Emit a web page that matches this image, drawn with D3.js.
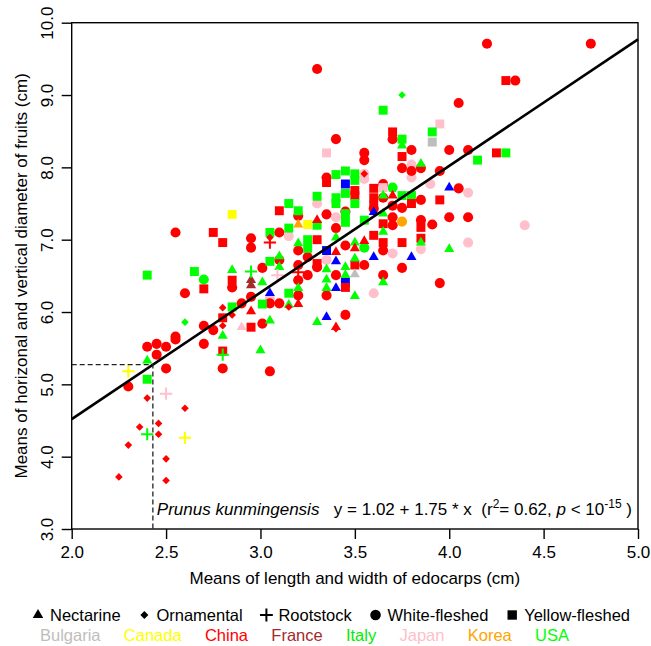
<!DOCTYPE html>
<html>
<head>
<meta charset="utf-8">
<script src="https://cdn.jsdelivr.net/npm/d3@7"></script>
<style>
body { margin: 0; background: #fff; }
svg { display: block; font-family: "Liberation Sans", Arial, Helvetica, sans-serif; }
</style>
</head>
<body>
<svg id="chart" width="651" height="646"></svg>
<script>
// legend categories
const fruitTypes = ["Nectarine", "Ornamental", "Rootstock", "White-fleshed", "Yellow-fleshed"]
const countries = ["Bulgaria", "Canada", "China", "France", "Italy", "Japan", "Korea", "USA"]
const countryCodes = ["BG", "CA", "CN", "FR", "IT", "JP", "KR", "US"]

// axis ticks
const xTicks = [2.0, 2.5, 3.0, 3.5, 4.0, 4.5, 5.0]
const yTicks = [3, 4, 5, 6, 7, 8, 9, 10]

// fitted line and the P. kunmingensis edocarp size
const intercept = 1.02
const slope = 1.75
const r2 = 0.62
const kunmingX = 2.43

// points: [edocarp mean, fruit diameter mean, country]
const whiteFleshed = [
    [2.40,5.52,"CN"],[2.45,5.56,"CN"],[2.50,5.52,"CN"],[2.45,5.41,"CN"],[2.55,5.62,"CN"],[2.70,5.56,"CN"],
    [2.50,5.22,"CN"],[2.30,4.97,"CN"],[2.80,5.22,"CN"],[2.55,7.10,"CN"],[2.70,6.45,"IT"],[2.60,6.26,"CN"],
    [2.70,5.81,"CN"],[2.75,5.75,"CN"],[2.55,5.66,"CN"],[3.30,7.50,"JP"],[3.20,7.33,"CN"],[3.35,7.35,"CN"],
    [3.40,7.31,"JP"],[3.10,7.10,"CN"],[3.15,7.05,"JP"],[2.95,7.02,"CN"],[2.95,6.89,"CN"],[3.40,7.16,"CN"],
    [3.20,6.85,"CN"],[3.25,6.76,"CN"],[3.35,6.72,"JP"],[3.30,6.62,"CN"],[3.40,6.51,"CN"],[3.35,6.23,"CN"],
    [3.10,6.72,"CN"],[3.01,6.61,"CN"],[2.95,6.21,"CN"],[2.85,6.34,"CN"],[3.20,6.65,"CN"],[3.20,6.44,"CN"],
    [3.20,6.23,"CN"],[3.25,6.51,"CN"],[3.05,6.19,"JP"],[3.10,6.12,"CN"],[3.05,6.12,"CN"],[2.90,6.12,"CN"],
    [3.01,5.84,"CN"],[3.05,5.18,"CN"],[3.30,9.36,"CN"],[3.40,8.39,"CN"],[3.35,7.86,"CN"],[4.05,8.89,"CN"],
    [3.70,8.39,"CN"],[3.80,8.24,"CN"],[4.00,8.24,"CN"],[4.10,8.24,"CN"],[3.55,8.20,"CN"],[3.55,8.10,"CN"],
    [3.75,7.99,"CN"],[3.80,8.04,"JP"],[3.80,7.86,"JP"],[3.80,7.95,"CN"],[3.85,7.99,"CN"],[3.95,7.95,"CN"],
    [3.55,7.91,"JP"],[3.55,7.84,"JP"],[3.65,7.77,"CN"],[3.90,7.77,"JP"],[3.65,7.58,"CN"],[3.70,7.72,"IT"],
    [3.70,7.47,"CN"],[3.75,7.44,"CN"],[3.85,7.55,"CN"],[4.05,7.71,"CN"],[4.10,7.65,"JP"],[3.60,7.43,"CN"],
    [3.70,7.31,"CN"],[3.70,7.20,"CN"],[3.75,7.25,"KR"],[3.85,7.27,"CN"],[3.91,7.21,"CN"],[4.00,7.31,"CN"],
    [4.10,7.31,"CN"],[3.65,6.85,"CN"],[3.85,6.87,"JP"],[4.10,6.96,"JP"],[3.55,6.89,"IT"],[3.45,6.92,"CN"],
    [3.55,6.65,"CN"],[3.70,6.81,"JP"],[3.75,6.61,"CN"],[3.65,6.51,"CN"],[3.60,6.26,"JP"],[3.95,6.40,"CN"],
    [3.45,5.96,"CN"],[3.45,7.39,"CN"],[4.20,9.71,"CN"],[4.75,9.71,"CN"],[4.35,9.20,"CN"],[4.40,7.20,"JP"]
]
const yellowFleshed = [
    [2.80,5.46,"CN"],[2.40,5.07,"IT"],[2.75,7.10,"CN"],[2.80,6.96,"CN"],[2.85,7.35,"CA"],[2.40,6.51,"IT"],
    [2.65,6.56,"IT"],[2.70,6.32,"CN"],[2.80,5.92,"CN"],[3.35,7.79,"CN"],[3.30,7.60,"IT"],[3.40,7.58,"IT"],
    [3.40,7.50,"IT"],[3.15,7.50,"IT"],[3.10,7.40,"CN"],[3.20,7.40,"IT"],[3.25,7.21,"CA"],[3.30,7.20,"IT"],
    [3.15,7.16,"IT"],[3.05,7.10,"IT"],[3.25,7.00,"IT"],[3.30,7.00,"CN"],[3.25,6.88,"IT"],[3.35,6.85,"US"],
    [3.30,6.67,"CN"],[3.05,6.70,"IT"],[2.85,6.44,"CN"],[3.15,6.26,"IT"],[3.01,6.11,"IT"],[2.85,6.07,"IT"],
    [2.95,5.79,"CN"],[3.35,8.20,"JP"],[3.40,7.90,"IT"],[3.65,8.79,"IT"],[3.95,8.60,"JP"],[3.91,8.49,"IT"],
    [3.91,8.35,"BG"],[3.70,8.49,"CN"],[3.75,8.39,"IT"],[3.75,8.15,"CN"],[3.45,7.95,"IT"],[3.50,7.91,"IT"],
    [3.50,7.82,"IT"],[3.45,7.77,"US"],[3.45,7.64,"IT"],[3.50,7.68,"CN"],[3.50,7.61,"CN"],[3.50,7.50,"IT"],
    [3.60,7.71,"CN"],[3.60,7.58,"CN"],[3.60,7.47,"CN"],[3.65,7.72,"JP"],[3.75,7.61,"IT"],[3.80,7.61,"IT"],
    [3.80,7.50,"CN"],[3.95,7.55,"CN"],[3.45,7.36,"IT"],[3.45,7.24,"IT"],[3.55,7.27,"IT"],[3.65,7.22,"CN"],
    [3.85,7.17,"CN"],[3.85,7.02,"CN"],[3.60,7.06,"CN"],[3.65,6.96,"CN"],[3.75,6.96,"CN"],[3.50,6.65,"CN"],
    [3.45,6.41,"US"],[3.45,6.34,"CN"],[4.30,9.20,"CN"],[4.15,8.10,"IT"],[4.25,8.20,"CN"],[4.30,8.20,"IT"]
]
const nectarine = [
    [2.40,5.33,"IT"],[3.00,5.47,"IT"],[2.80,5.67,"IT"],[3.20,7.21,"KR"],[3.30,7.27,"CN"],[3.40,7.03,"IT"],
    [3.20,6.95,"IT"],[3.40,6.83,"CN"],[3.40,6.70,"US"],[3.35,6.59,"IT"],[3.35,6.45,"IT"],[3.35,6.33,"IT"],
    [3.40,6.33,"US"],[3.10,6.77,"IT"],[3.10,6.62,"IT"],[2.95,6.44,"FR"],[2.95,6.37,"FR"],[3.01,6.41,"IT"],
    [2.85,6.58,"IT"],[3.20,6.33,"IT"],[3.20,6.11,"CN"],[3.05,6.26,"US"],[3.15,6.10,"IT"],[2.95,6.01,"CN"],
    [3.05,5.88,"IT"],[2.90,5.79,"JP"],[3.30,5.86,"IT"],[3.35,5.93,"US"],[3.40,5.79,"CN"],[3.75,8.30,"IT"],
    [3.85,8.05,"IT"],[3.65,7.61,"IT"],[3.70,7.61,"CN"],[4.00,7.72,"US"],[3.60,7.38,"US"],[3.65,7.36,"IT"],
    [3.70,7.24,"CN"],[3.65,7.11,"IT"],[3.85,6.96,"IT"],[4.00,6.87,"IT"],[3.55,6.98,"CN"],[3.50,6.96,"IT"],
    [3.50,6.88,"CN"],[3.50,6.74,"IT"],[3.45,6.62,"IT"],[3.45,6.51,"IT"],[3.50,6.52,"BG"],[3.60,6.76,"US"],
    [3.80,6.76,"US"],[3.65,6.41,"IT"],[3.50,6.22,"IT"]
]
const ornamental = [
    [2.40,4.81,"CN"],[2.60,4.67,"CN"],[2.46,4.46,"CN"],[2.36,4.41,"CN"],[2.46,4.31,"CN"],[2.30,4.16,"CN"],
    [2.50,3.97,"CN"],[2.25,3.72,"CN"],[2.50,3.67,"CN"],[2.60,5.86,"IT"],[2.80,6.06,"CN"],[2.80,5.81,"CN"],
    [3.05,7.03,"CN"],[3.15,6.07,"CN"],[2.85,5.96,"CN"],[3.40,5.77,"CN"],[3.75,9.00,"IT"],[3.55,7.91,"CN"]
]
const rootstock = [
    [2.80,5.41,"IT"],[2.30,5.18,"CA"],[2.50,4.87,"JP"],[2.40,4.31,"IT"],[2.60,4.26,"CA"],
    [3.05,6.96,"CN"],[3.09,6.51,"JP"],[2.95,6.56,"IT"],[3.20,6.55,"CN"]
]

// colours
const legendColour = ["#bebebe", "#ffff00", "#ff0000", "#a52a2a", "#00ee00", "#ffc0cb", "#ffa500", "#00ff00"]
const pointColour = {BG: "#bebebe", CA: "#ffff00", CN: "#ff0000", FR: "#a52a2a", IT: "#00ff00", JP: "#ffc0cb", KR: "#ffa500", US: "#0000ff"}

const plusSymbol = {
    draw(ctx, size) {
        const r = Math.sqrt(size) / 2
        ctx.moveTo(-r, 0); ctx.lineTo(r, 0)
        ctx.moveTo(0, -r); ctx.lineTo(0, r)
    }
}
const diamondSymbol = {
    draw(ctx, size) {
        const r = Math.sqrt(size) / 2
        ctx.moveTo(0, -r); ctx.lineTo(r, 0); ctx.lineTo(0, r); ctx.lineTo(-r, 0); ctx.closePath()
    }
}
const symbolFor = {
    "Nectarine": {type: d3.symbolTriangle, size: 44, stroke: false},
    "Ornamental": {type: diamondSymbol, size: 58, stroke: false},
    "Rootstock": {type: plusSymbol, size: 150, stroke: true},
    "White-fleshed": {type: d3.symbolCircle, size: 80, stroke: false},
    "Yellow-fleshed": {type: d3.symbolSquare, size: 80, stroke: false}
}

const width = 651
const height = 646
const plotLeft = 71.7, plotRight = 638, plotTop = 22.7, plotBottom = 529
const fontSize = 17
const legendFont = 16.5

const svg = d3.select("#chart")
    .attr("viewBox", `0 0 ${width} ${height}`)

const x = d3.scaleLinear().domain([2, 5]).range([plotLeft, plotRight])
const y = d3.scaleLinear().domain([3, 10]).range([plotBottom, plotTop])

// frame
svg.append("rect")
    .attr("x", plotLeft).attr("y", plotTop)
    .attr("width", plotRight - plotLeft).attr("height", plotBottom - plotTop)
    .attr("fill", "none").attr("stroke", "#000").attr("stroke-width", 1.4)

const xAxis = svg.append("g")
    .attr("transform", `translate(0,${plotBottom})`)
    .call(d3.axisBottom(x).tickValues(xTicks).tickFormat(d3.format(".1f")).tickSize(10).tickPadding(7))
xAxis.select(".domain").remove()
xAxis.selectAll("line").attr("stroke-width", 1.4)
xAxis.selectAll("text").attr("font-size", fontSize).attr("font-family", null).attr("fill", "#000")

const yAxis = svg.append("g")
    .attr("transform", `translate(${plotLeft},0)`)
    .call(d3.axisLeft(y).tickValues(yTicks).tickFormat(d3.format(".1f")).tickSize(10))
yAxis.select(".domain").remove()
yAxis.selectAll("line").attr("stroke-width", 1.4)
yAxis.selectAll("text")
    .attr("font-size", fontSize).attr("font-family", null).attr("fill", "#000")
    .attr("transform", "rotate(-90)")
    .attr("x", 0).attr("y", -19).attr("dy", null)
    .attr("text-anchor", "middle")

// axis titles
svg.append("text")
    .attr("x", (plotLeft + plotRight) / 2).attr("y", 584)
    .attr("text-anchor", "middle").attr("font-size", fontSize)
    .text("Means of length and width of edocarps (cm)")
svg.append("text")
    .attr("transform", `translate(27,${(plotTop + plotBottom) / 2}) rotate(-90)`)
    .attr("text-anchor", "middle").attr("font-size", fontSize)
    .text("Means of horizonal and vertical diameter of fruits (cm)")

// points
const groups = [
    ["White-fleshed", whiteFleshed],
    ["Yellow-fleshed", yellowFleshed],
    ["Nectarine", nectarine],
    ["Ornamental", ornamental],
    ["Rootstock", rootstock]
]
const pointsG = svg.append("g")
groups.forEach(([kind, rows]) => {
    const s = symbolFor[kind]
    const sym = d3.symbol().type(s.type).size(s.size)
    pointsG.append("g").selectAll("path")
        .data(rows)
        .join("path")
        .attr("d", sym)
        .attr("transform", d => `translate(${x(d[0])},${y(d[1])})`)
        .attr("fill", d => s.stroke ? "none" : pointColour[d[2]])
        .attr("stroke", d => s.stroke ? pointColour[d[2]] : "none")
        .attr("stroke-width", s.stroke ? 2 : 0)
})

// regression line
const fit = v => intercept + slope * v
svg.append("line")
    .attr("x1", x(2)).attr("y1", y(fit(2)))
    .attr("x2", x(5)).attr("y2", y(fit(5)))
    .attr("stroke", "#000").attr("stroke-width", 2.6)

// dashed guide for P. kunmingensis
svg.append("path")
    .attr("d", `M${x(2)},${y(fit(kunmingX))}H${x(kunmingX)}V${y(3)}`)
    .attr("fill", "none").attr("stroke", "#222").attr("stroke-width", 1.3)
    .attr("stroke-dasharray", "5,3")

svg.append("text")
    .attr("x", x(kunmingX) + 4).attr("y", 515)
    .attr("font-size", fontSize).attr("font-style", "italic")
    .text("Prunus kunmingensis")

const eq = svg.append("text")
    .attr("x", 632).attr("y", 515)
    .attr("text-anchor", "end").attr("font-size", fontSize)
    .attr("xml:space", "preserve")
eq.append("tspan").text(`y = ${intercept.toFixed(2)} + ${slope.toFixed(2)} * x  (r`)
eq.append("tspan").attr("font-size", 12).attr("dy", -7).text("2")
eq.append("tspan").attr("dy", 7).text(`= ${r2.toFixed(2)}, `)
eq.append("tspan").attr("font-style", "italic").text("p")
eq.append("tspan").text(" < 10")
eq.append("tspan").attr("font-size", 12).attr("dy", -7).text("-15")
eq.append("tspan").attr("dy", 7).text(" )")

// legend: fruit types
const leg1 = svg.append("g")
const row1Y = 615
const symGap = 12
let cx = 38
const row1Items = fruitTypes.map(t => {
    const g = leg1.append("g")
    const s = symbolFor[t]
    g.append("path")
        .attr("d", d3.symbol().type(s.type).size(s.size * 1.1)())
        .attr("fill", s.stroke ? "none" : "#000")
        .attr("stroke", s.stroke ? "#000" : "none")
        .attr("stroke-width", s.stroke ? 2 : 0)
    const txt = g.append("text")
        .attr("x", symGap).attr("y", 6)
        .attr("font-size", legendFont)
        .text(t)
    return {g, w: txt.node().getComputedTextLength()}
})
const sum1 = d3.sum(row1Items, d => d.w)
const gap1 = (630 - 38 - symGap * fruitTypes.length - sum1) / (fruitTypes.length - 1)
row1Items.forEach(d => {
    d.g.attr("transform", `translate(${cx},${row1Y})`)
    cx += symGap + d.w + gap1
})

// legend: countries
const leg2 = svg.append("g")
const row2Items = countries.map((c, i) => {
    const txt = leg2.append("text")
        .attr("y", 641)
        .attr("font-size", legendFont)
        .attr("fill", legendColour[i])
        .text(c)
    return {txt, w: txt.node().getComputedTextLength()}
})
const sum2 = d3.sum(row2Items, d => d.w)
const gap2 = (569 - 40 - sum2) / (countries.length - 1)
let tx = 40
row2Items.forEach(d => {
    d.txt.attr("x", tx)
    tx += d.w + gap2
})
</script>
</body>
</html>
